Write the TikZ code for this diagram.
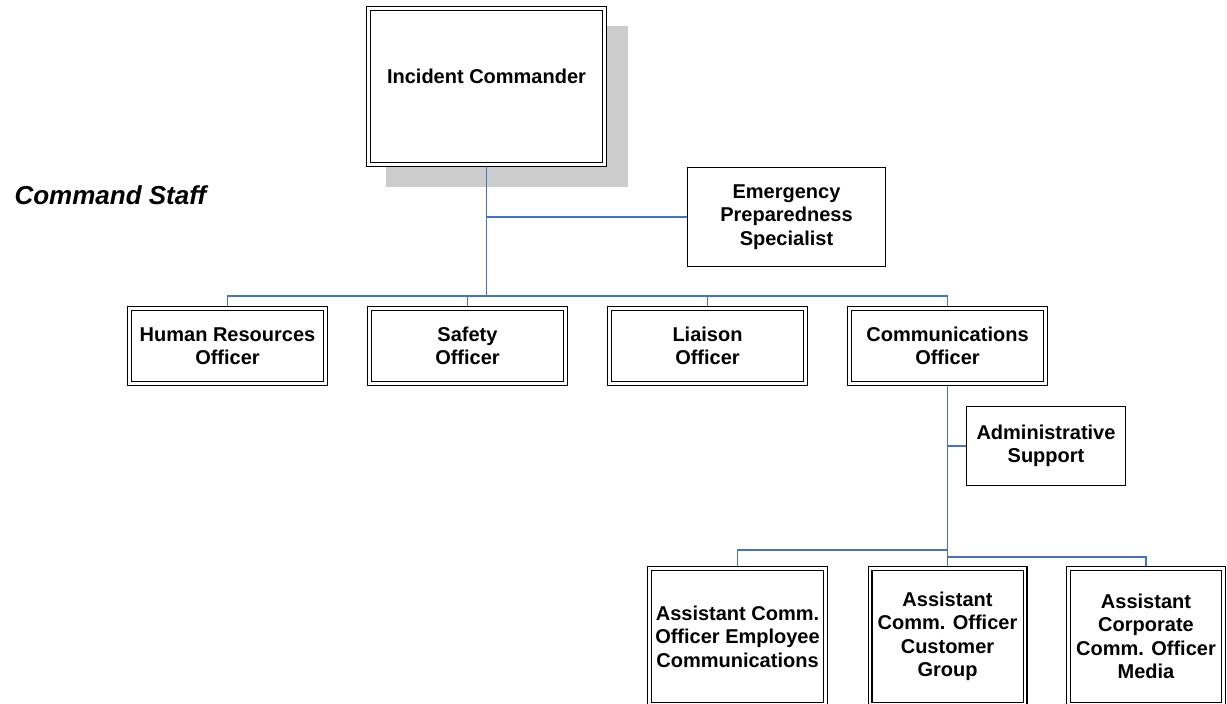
\documentclass[tikz,border=0pt]{standalone}
\usepackage{fontspec}
\setmainfont{Liberation Sans}
\usetikzlibrary{backgrounds}
\definecolor{linkblue}{RGB}{68,114,196}
\definecolor{shadowgray}{RGB}{204,204,204}

\begin{document}
\begin{tikzpicture}[x=1pt,y=-1pt,
  boxtext/.style={font=\bfseries\fontsize{20}{23.5}\selectfont,align=center},
  dblbox/.style={boxtext,draw=black,fill=white,double=white,double distance=2.2pt,line width=1.4pt,inner sep=0pt},
  plainbox/.style={boxtext,draw=black,fill=white,line width=1.4pt,inner sep=0pt},
  link/.style={draw=linkblue,line width=1.5pt}]
\useasboundingbox (0,0) rectangle (1227,704);
% top of the chart
\node[dblbox,minimum width=236pt,minimum height=156pt,
  label={[boxtext,name=ictext,yshift=10pt]center:Incident Commander}] (ic) at (486.5,86.5) {};
\node[font=\bfseries\itshape\fontsize{26}{30}\selectfont,anchor=base west] (staff) at (11,204) {Command Staff};
\node[plainbox,minimum width=198pt,minimum height=99pt] (emerg) at (786.5,217) {Emergency\\Preparedness\\Specialist};
% command staff row
\node[dblbox,minimum width=196pt,minimum height=75pt] (hr) at (227.5,346) {Human Resources\\Officer};
\node[dblbox,minimum width=196pt,minimum height=75pt] (safety) at (467.5,346) {Safety\\Officer};
\node[dblbox,minimum width=196pt,minimum height=75pt] (liaison) at (707.5,346) {Liaison\\Officer};
\node[dblbox,minimum width=196pt,minimum height=75pt] (comm) at (947.5,346) {Communications\\Officer};
\node[plainbox,minimum width=159pt,minimum height=79pt] (admin) at (1046,446) {Administrative\\Support};
% assistants
\node[dblbox,minimum width=176pt,minimum height=136pt] (asst1) at (737.5,636.5) {Assistant Comm.\\Officer Employee\\Communications};
\node[dblbox,minimum width=155pt,minimum height=136pt] (asst2) at (947.5,636.5) {Assistant\\Comm. Officer\\Customer\\Group};
\node[dblbox,minimum width=155pt,minimum height=136pt] (asst3) at (1146,636.5) {Assistant\\Corporate\\Comm. Officer\\Media};
\coordinate (bus) at (486.5,296);
\coordinate (lbar) at (947.5,550);
\coordinate (rbar) at (947.5,557);
\begin{scope}[on background layer]
\fill[shadowgray] (386,26) rectangle (628,187);
\draw[link] (ic.south)--(bus);
\draw[link] (ic.south |- emerg.west)--(emerg.west);
\draw[link] (hr.north)--(hr.north |- bus)--(comm.north |- bus)--(comm.north);
\draw[link] (safety.north)--(safety.north |- bus);
\draw[link] (liaison.north)--(liaison.north |- bus);
\draw[link] (comm.south)--(asst2.north);
\draw[link] (comm.south |- admin.west)--(admin.west);
\draw[link] (lbar)-|(asst1.north);
\draw[link] (rbar)-|(asst3.north);
\end{scope}
\end{tikzpicture}
\end{document}
